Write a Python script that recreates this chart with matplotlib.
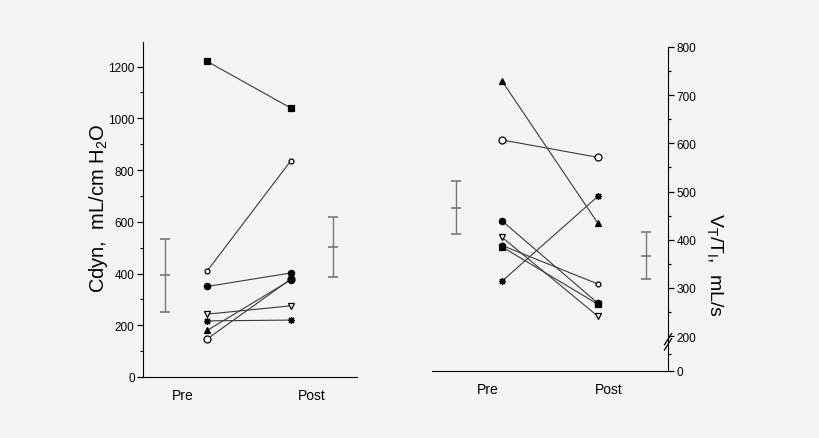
import numpy as np
import matplotlib
matplotlib.use("Agg")
import matplotlib.pyplot as plt
from matplotlib.scale import FuncScale

plt.rcParams['font.family'] = ['Liberation Sans', 'DejaVu Sans']
plt.rcParams['mathtext.fontset'] = 'custom'
plt.rcParams['mathtext.rm'] = 'Liberation Sans'

# --- data ---
groups = ["Pre", "Post"]
markers = ['s', 'o', 'o', 'v', (8, 2, 0), '^', 'o']
filled = [True, False, True, False, True, True, False]
msizes = [4.5, 3.5, 4.5, 4.5, 5, 4.5, 5]

cdyn_pre = [1220, 410, 350, 243, 217, 180, 147]
cdyn_post = [1040, 835, 402, 275, 220, 375, 378]
# at Post the two converging series show as filled dots
cdyn_post_markers = ['s', 'o', 'o', 'v', (8, 2, 0), 'o', 'o']
cdyn_post_filled = [True, False, True, False, True, True, True]
cdyn_mean = [395, 503]
cdyn_lo = [251, 387]
cdyn_hi = [534, 619]

vt_pre = [385, 388, 439, 405, 314, 729, 607]
vt_post = [266, 308, 268, 241, 490, 434, 571]
vt_mean = [466, 366]
vt_lo = [411, 318]
vt_hi = [521, 416]

bg = '#f4f4f4'
line_c = '#3a3a3a'
err_c = '#777777'

fig = plt.figure(figsize=(8.2, 4.39), dpi=100, facecolor=bg)


def draw_pairs(ax, pre, post, xpre, xpost, post_markers=None, post_filled=None):
    if post_markers is None:
        post_markers = markers
        post_filled = filled
    for i in range(len(pre)):
        ax.plot([xpre, xpost], [pre[i], post[i]], color=line_c, lw=0.8, zorder=2)
    # markers drawn in reverse so the first series sits on top
    for i in reversed(range(len(pre))):
        ax.plot([xpre], [pre[i]], ls='none', marker=markers[i], ms=msizes[i],
                mfc='black' if filled[i] else 'white', mec='black', mew=0.9, zorder=3)
        ax.plot([xpost], [post[i]], ls='none', marker=post_markers[i], ms=msizes[i],
                mfc='black' if post_filled[i] else 'white', mec='black', mew=0.9, zorder=3)


def draw_err(ax, xs, mean, lo, hi):
    for x, m, l, h in zip(xs, mean, lo, hi):
        ax.errorbar([x], [m], yerr=[[m - l], [h - m]], fmt='_', color=err_c,
                    ms=7, mew=1.2, elinewidth=1.0, capsize=3.8, capthick=1.0, zorder=2)


# ---------------- left panel ----------------
ax1 = fig.add_axes([143 / 820, 1 - 378 / 439, 214 / 820, 335 / 439])
ax1.set_facecolor(bg)
ax1.set_xlim(0, 10)
ax1.set_ylim(0, 1295)
draw_pairs(ax1, cdyn_pre, cdyn_post, 3.0, 6.9, cdyn_post_markers, cdyn_post_filled)
draw_err(ax1, [1.03, 8.9], cdyn_mean, cdyn_lo, cdyn_hi)

ax1.spines['top'].set_visible(False)
ax1.spines['right'].set_visible(False)
ax1.set_yticks(np.arange(0, 1201, 200))
ax1.set_yticks(np.arange(100, 1300, 100), minor=True)
ax1.tick_params(axis='y', which='major', length=4, width=0.9, labelsize=8.5, pad=2)
ax1.tick_params(axis='y', which='minor', length=2.5, width=0.8)
ax1.set_xticks([1.87, 7.9])
ax1.set_xticklabels(groups, fontsize=10)
ax1.tick_params(axis='x', length=0, pad=8)
ax1.text(-0.21, 0.507, 'Cdyn,  mL/cm H$_\\mathregular{2}$O', rotation=90,
         ha='center', va='center', fontsize=14.5, transform=ax1.transAxes)

# ---------------- right panel (broken axis below 200) ----------------
k = 0.363


def fwd(y):
    y = np.asarray(y, dtype=float)
    return np.where(y >= 200, y, 200 - (200 - y) * k)


def inv(y):
    y = np.asarray(y, dtype=float)
    return np.where(y >= 200, y, 200 - (200 - y) / k)


ax2 = fig.add_axes([432 / 820, 1 - 372 / 439, 236 / 820, 324 / 439])
ax2.set_facecolor(bg)
ax2.set_yscale(FuncScale(ax2, (fwd, inv)))
ax2.set_xlim(0, 10)
ax2.set_ylim(0, 800)
draw_pairs(ax2, vt_pre, vt_post, 2.97, 7.03)
draw_err(ax2, [1.02, 9.07], vt_mean, vt_lo, vt_hi)

ax2.spines['top'].set_visible(False)
ax2.spines['left'].set_visible(False)
ax2.yaxis.tick_right()
ax2.set_yticks([0, 200, 300, 400, 500, 600, 700, 800])
ax2.set_yticks([100] + list(np.arange(250, 800, 50)), minor=True)
ax2.tick_params(axis='y', which='major', length=4, width=0.9, labelsize=8.5, pad=2)
ax2.tick_params(axis='y', which='minor', length=2.5, width=0.8)
ax2.set_xticks([2.37, 7.5])
ax2.set_xticklabels(groups, fontsize=10)
ax2.tick_params(axis='x', length=0, pad=8)
ax2.text(1.195, 0.33, 'V$_\\mathregular{T}$/T$_\\mathregular{I}$,  mL/s', rotation=270,
         ha='center', va='center', fontsize=14, transform=ax2.transAxes)

# break marks on the right spine
yt = ax2.get_yaxis_transform()
for y0, y1 in [(150, 205), (120, 185)]:
    ax2.plot([0.985, 1.015], [y0, y1], color='black', lw=0.9,
             transform=yt, clip_on=False, zorder=5)

fig.savefig('out.png', dpi=100, facecolor=bg)
